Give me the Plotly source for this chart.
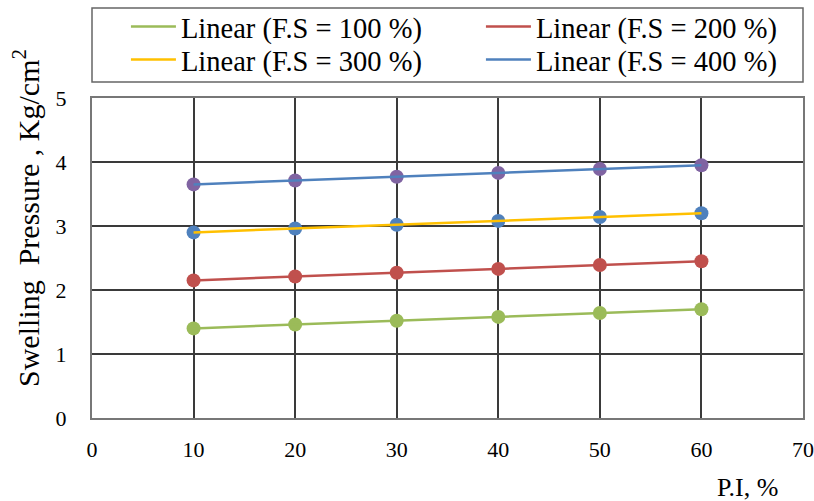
import plotly.graph_objects as go

pi = [10, 20, 30, 40, 50, 60]
fs100 = [1.40, 1.46, 1.52, 1.58, 1.64, 1.70]
fs200 = [2.15, 2.21, 2.27, 2.33, 2.39, 2.45]
fs300 = [2.90, 2.96, 3.02, 3.08, 3.14, 3.20]
fs400 = [3.65, 3.71, 3.77, 3.83, 3.89, 3.95]

names = ["Linear (F.S = 100 %)", "Linear (F.S = 200 %)",
         "Linear (F.S = 300 %)", "Linear (F.S = 400 %)"]
series = [fs100, fs200, fs300, fs400]
marker_colors = ["#9BBB59", "#C0504D", "#4F81BD", "#8064A2"]
line_colors = ["#9BBB59", "#C0504D", "#FFC000", "#4F81BD"]
legend_ids = ["legend", "legend2", "legend3", "legend4"]

FONT = "Liberation Serif"
PLOT_H = 320
PLOT_W = 711


def py(pix):
    return (418 - pix) / PLOT_H


def px(pix):
    return (pix - 92) / PLOT_W


fig = go.Figure()
for ys, mc in zip(series, marker_colors):
    fig.add_trace(go.Scatter(x=pi, y=ys, mode="markers",
                             marker=dict(color=mc, size=14),
                             showlegend=False, hoverinfo="skip"))
for ys, lc, nm, lg in zip(series, line_colors, names, legend_ids):
    fig.add_trace(go.Scatter(x=[pi[0], pi[-1]], y=[ys[0], ys[-1]], mode="lines",
                             line=dict(color=lc, width=2.5), name=nm, legend=lg,
                             hoverinfo="skip"))

leg_common = dict(orientation="v", yref="paper", xref="paper",
                  yanchor="middle", xanchor="left",
                  itemwidth=45, borderwidth=0, bgcolor="rgba(0,0,0,0)",
                  font=dict(family=FONT, size=28.5, color="#000"),
                  tracegroupgap=0)
col_x = [px(127) - 0.0015, px(482) - 0.0015]
row_y = [py(27), py(60)]

fig.update_layout(
    width=814, height=501,
    margin=dict(l=92, r=11, t=98, b=83, autoexpand=False),
    paper_bgcolor="white", plot_bgcolor="white",
    font=dict(family=FONT, size=22, color="#000"),
    legend=dict(x=col_x[0], y=row_y[0], **leg_common),
    legend2=dict(x=col_x[1], y=row_y[0], **leg_common),
    legend3=dict(x=col_x[0], y=row_y[1], **leg_common),
    legend4=dict(x=col_x[1], y=row_y[1], **leg_common),
    showlegend=True,
)
fig.add_shape(type="rect", xref="paper", yref="paper",
              x0=0, x1=1, y0=py(82), y1=py(8),
              line=dict(color="#666", width=1.5), fillcolor="rgba(0,0,0,0)")

fig.update_xaxes(range=[0, 70], tickvals=[0, 10, 20, 30, 40, 50, 60, 70],
                 showgrid=True, gridcolor="#3a3a3a", gridwidth=1.6,
                 showline=True, linecolor="#777", linewidth=2, mirror=True,
                 zeroline=False, ticks="", ticklabelstandoff=11,
                 tickfont=dict(size=22))
fig.update_yaxes(range=[0, 5], tickvals=[0, 1, 2, 3, 4, 5],
                 showgrid=True, gridcolor="#3a3a3a", gridwidth=1.6,
                 showline=True, linecolor="#777", linewidth=2, mirror=True,
                 zeroline=False, ticks="", ticklabelstandoff=19,
                 tickfont=dict(size=22))
fig.add_annotation(text="Swelling  Pressure , Kg/cm<sup>2</sup>",
                   xref="paper", yref="paper", textangle=-90,
                   x=px(26), y=py(218),
                   xanchor="center", yanchor="middle", showarrow=False,
                   font=dict(family=FONT, size=30))
fig.add_annotation(text="P.I, %", xref="paper", yref="paper",
                   x=px(747), y=py(487),
                   xanchor="center", yanchor="middle", showarrow=False,
                   font=dict(family=FONT, size=26))

fig.write_html("out.html", config={"displayModeBar": False},
               post_script="document.body.style.margin='0';"
                           "document.body.style.overflow='hidden';")
